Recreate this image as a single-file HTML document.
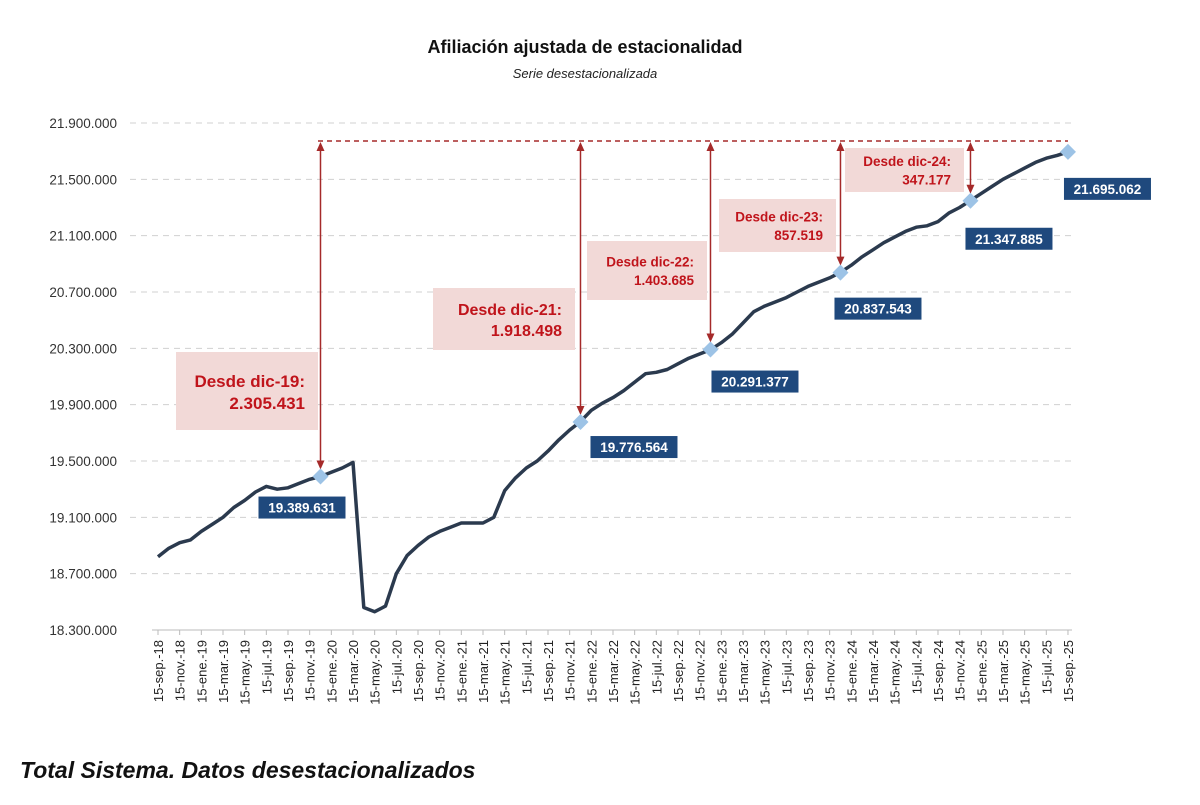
<!DOCTYPE html>
<html><head><meta charset="utf-8"><style>
body{margin:0;background:#fff;width:1200px;height:800px;overflow:hidden;font-family:"Liberation Sans",sans-serif}
</style></head><body>
<svg id="s" width="1200" height="800" xmlns="http://www.w3.org/2000/svg" font-family="Liberation Sans, sans-serif"></svg>
<script>
const s=document.getElementById('s');let h='';
h+='<text x="585" y="53" text-anchor="middle" font-size="18" font-weight="bold" fill="#111">Afiliación ajustada de estacionalidad</text>';
h+='<text x="585" y="78" text-anchor="middle" font-size="13" font-style="italic" fill="#222">Serie desestacionalizada</text>';
const Y=v=>630-(v-18.3)/3.6*507;
const X=m=>158+m*10.833;
const labs=['18.300.000','18.700.000','19.100.000','19.500.000','19.900.000','20.300.000','20.700.000','21.100.000','21.500.000','21.900.000'];
labs.forEach((l,i)=>{const y=Y(18.3+0.4*i);
 if(i>0)h+=`<line x1="130" x2="1075" y1="${y}" y2="${y}" stroke="#d0d0d0" stroke-dasharray="6,5"/>`;
 h+=`<text x="117" y="${y+5}" text-anchor="end" font-size="13.5" fill="#333">${l}</text>`;});
h+=`<line x1="152" x2="1072" y1="630" y2="630" stroke="#bbb"/>`;
const mn=['sep','nov','ene','mar','may','jul'];
for(let i=0;i<=42;i++){const m=i*2;const x=X(m);const yr=18+Math.floor((m+8)/12);
 h+=`<line x1="${x}" x2="${x}" y1="630" y2="635" stroke="#bbb"/>`;
 h+=`<text transform="translate(${x+5},${640}) rotate(-90)" text-anchor="end" font-size="13" fill="#222">15-${mn[i%6]}.-${yr}</text>`;}
const d=[18.82,18.88,18.92,18.94,19.00,19.05,19.10,19.17,19.22,19.28,19.32,19.30,19.31,19.34,19.37,19.39,19.42,19.45,19.49,18.46,18.43,18.47,18.70,18.83,18.90,18.96,19.00,19.03,19.06,19.06,19.06,19.10,19.29,19.38,19.45,19.50,19.57,19.65,19.72,19.78,19.86,19.91,19.95,20.00,20.06,20.12,20.13,20.15,20.19,20.23,20.26,20.29,20.34,20.40,20.48,20.56,20.60,20.63,20.66,20.70,20.74,20.77,20.80,20.84,20.89,20.95,21.00,21.05,21.09,21.13,21.16,21.17,21.20,21.26,21.30,21.35,21.40,21.45,21.50,21.54,21.58,21.62,21.65,21.67,21.695];
h+=`<polyline fill="none" stroke="#2b3a4e" stroke-width="3.5" stroke-linejoin="round" points="${d.map((v,i)=>X(i).toFixed(1)+','+Y(v).toFixed(1)).join(' ')}"/>`;
h+=`<line x1="318" x2="1068" y1="141" y2="141" stroke="#a52a2a" stroke-width="1.5" stroke-dasharray="5,4"/>`;
const pts=[[15,19.3896,'19.389.631',-62,20],[39,19.7766,'19.776.564',10,14],[51,20.2914,'20.291.377',1,21],[63,20.8375,'20.837.543',-6,25],[75,21.3479,'21.347.885',-5,27],[84,21.695,'21.695.062',-4,26]];
const ann=[[176,352,142,78,'Desde dic-19:','2.305.431',17],[433,288,142,62,'Desde dic-21:','1.918.498',16],[587,241,120,59,'Desde dic-22:','1.403.685',13.5],[719,199,117,53,'Desde dic-23:','857.519',13.5],[845,148,119,44,'Desde dic-24:','347.177',13.5]];
ann.forEach(a=>{h+=`<rect x="${a[0]}" y="${a[1]}" width="${a[2]}" height="${a[3]}" fill="#f2d9d7"/>`;
 const rx=a[0]+a[2]-13,cy=a[1]+a[3]/2;
 h+=`<text x="${rx}" y="${cy-4}" text-anchor="end" font-size="${a[6]}" font-weight="bold" fill="#c0141b">${a[4]}</text>`;
 h+=`<text x="${rx}" y="${cy+a[6]+1}" text-anchor="end" font-size="${a[6]}" font-weight="bold" fill="#c0141b">${a[5]}</text>`;});
pts.forEach((p,i)=>{const x=X(p[0]),y=Y(p[1]);
 if(i<5){h+=`<line x1="${x}" x2="${x}" y1="146" y2="${y-12}" stroke="#a52a2a" stroke-width="1.5"/>`;
  h+=`<polygon points="${x-4},${151} ${x+4},${151} ${x},${142}" fill="#a52a2a"/>`;
  h+=`<polygon points="${x-4},${y-16} ${x+4},${y-16} ${x},${y-7}" fill="#a52a2a"/>`;}
 h+=`<polygon points="${x},${y-8} ${x+8},${y} ${x},${y+8} ${x-8},${y}" fill="#9dc3e6"/>`;
 const bx=x+p[3],by=y+p[4];
 h+=`<rect x="${bx}" y="${by}" width="87" height="22" fill="#1f497d"/>`;
 h+=`<text x="${bx+43.5}" y="${by+16}" text-anchor="middle" font-size="13.5" font-weight="bold" fill="#fff">${p[2]}</text>`;});
h+='<text x="20" y="778" font-size="23" font-weight="bold" font-style="italic" fill="#111">Total Sistema. Datos desestacionalizados</text>';
s.innerHTML=h;
</script>
</body></html>
